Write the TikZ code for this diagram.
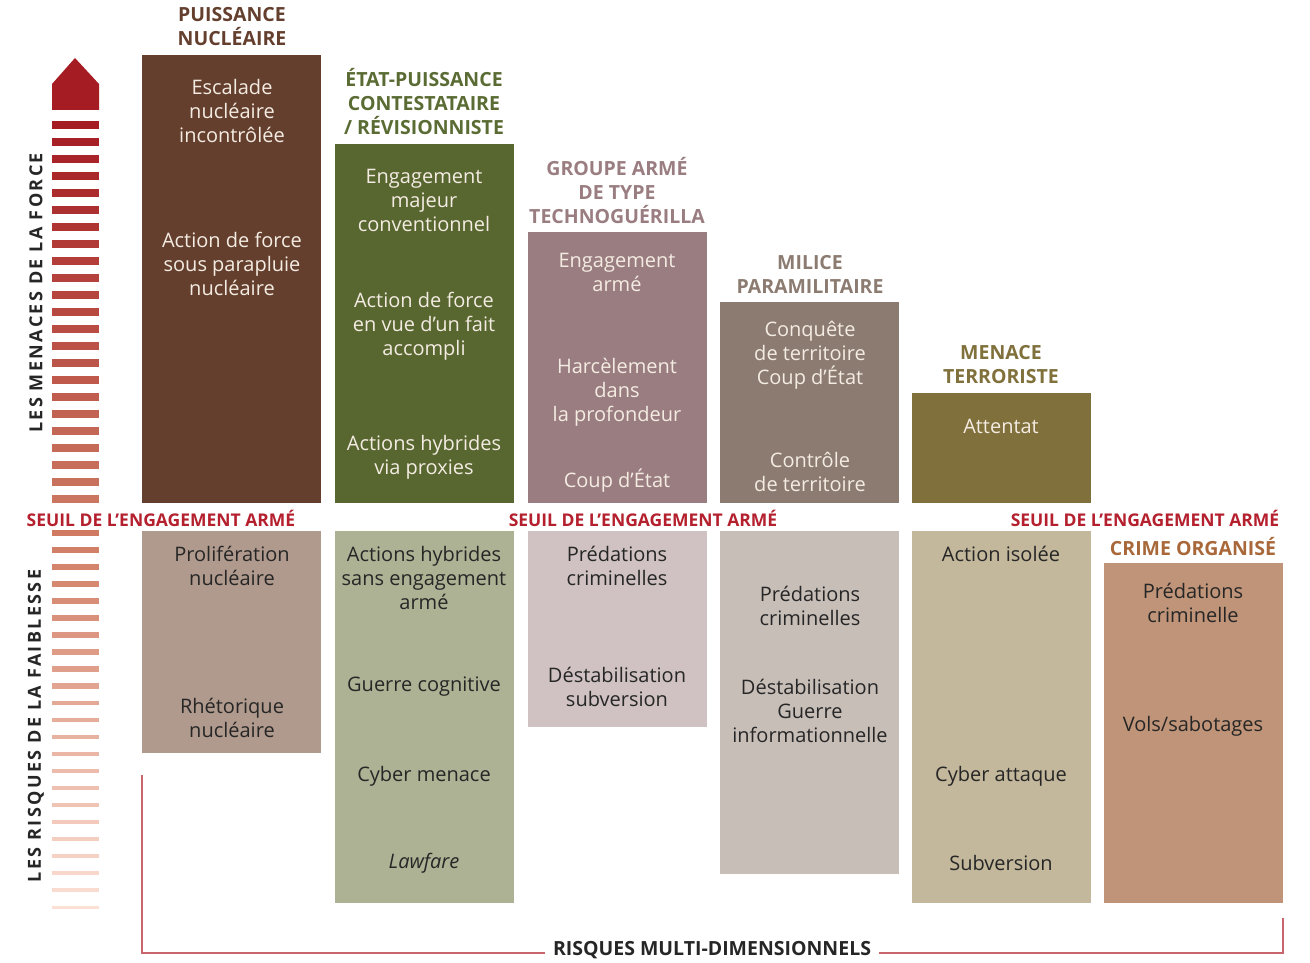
\documentclass[tikz,border=0pt]{standalone}
\usepackage{fontspec}
\setmainfont{Open Sans}
\newfontfamily\spaced[LetterSpace=13]{Open Sans}
\usetikzlibrary{calc}
\definecolor{nucbrown}{HTML}{643F2E}
\definecolor{nuclow}{HTML}{B09A8D}
\definecolor{etatgreen}{HTML}{586630}
\definecolor{etatlow}{HTML}{AEB294}
\definecolor{groupmauve}{HTML}{9A7D80}
\definecolor{grouplow}{HTML}{D0C2C2}
\definecolor{milice}{HTML}{8C7B70}
\definecolor{milicelow}{HTML}{C8BEB8}
\definecolor{terror}{HTML}{80703C}
\definecolor{terrorlow}{HTML}{C3B89C}
\definecolor{crime}{HTML}{C09478}
\definecolor{crimehead}{HTML}{A8683A}
\definecolor{etathead}{HTML}{5A6B33}
\definecolor{seuilred}{HTML}{B4202E}
\definecolor{arrowred}{HTML}{A51C22}
\definecolor{stripetop}{HTML}{A51C22}
\definecolor{stripemid}{HTML}{CA7660}
\definecolor{stripelow}{HTML}{D07A62}
\definecolor{stripeend}{HTML}{FCE0D4}
\definecolor{boxwhite}{HTML}{F4ECE2}
\definecolor{textdark}{HTML}{262626}
\definecolor{bracket}{HTML}{C8646C}

\begin{document}
\begin{tikzpicture}
    [x=1pt,y=-1pt,
     txt/.style={align=center,font=\fontsize{20}{24}\selectfont},
     light/.style={txt,text=boxwhite},
     dark/.style={txt,text=textdark},
     head/.style={align=center,font=\fontsize{19.5}{24}\selectfont\bfseries},
     seuil/.style={font=\fontsize{17.5}{18}\selectfont\bfseries,text=seuilred},
     side/.style={rotate=90,text=textdark,font=\fontsize{18}{20}\selectfont\spaced\bfseries}]

\useasboundingbox (0,0) rectangle (1310,963);

% left gauge
\fill[arrowred] (52,84) -- (75,58) -- (99,84) -- (99,110) -- (52,110) -- cycle;
\foreach \k in {0,...,22}{
  \pgfmathsetmacro\p{100-100*\k/22}
  \fill[stripetop!\p!stripemid] (52,{121+17*\k}) rectangle (99,{129+17*\k});
}
\foreach \k in {24,...,46}{
  \pgfmathsetmacro\p{100-100*(\k-24)/22}
  \pgfmathsetmacro\h{6.5-3.5*(\k-24)/22}
  \fill[stripelow!\p!stripeend] (52,{125+17*\k-\h/2}) rectangle (99,{125+17*\k+\h/2});
}
\node[side] (force) at (36,293) {LES MENACES DE LA FORCE};
\node[side] (faible) at (36,726) {LES RISQUES DE LA FAIBLESSE};

% columns
\fill[nucbrown] (142,55) rectangle (321,503);
\fill[nuclow] (142,531) rectangle (321,753);
\fill[etatgreen] (335,144) rectangle (514,503);
\fill[etatlow] (335,531) rectangle (514,903);
\fill[groupmauve] (528,232) rectangle (707,503);
\fill[grouplow] (528,531) rectangle (707,727);
\fill[milice] (720,302) rectangle (899,503);
\fill[milicelow] (720,531) rectangle (899,874);
\fill[terror] (912,393) rectangle (1091,503);
\fill[terrorlow] (912,531) rectangle (1091,903);
\fill[crime] (1104,563) rectangle (1283,903);

% headers
\node[head,text=nucbrown] (h1) at (232,27) {PUISSANCE\\NUCLÉAIRE};
\node[head,text=etathead] (h2) at (424,102) {ÉTAT-PUISSANCE\\CONTESTATAIRE\\/ RÉVISIONNISTE};
\node[head,text=groupmauve] (h3) at (617,191) {GROUPE ARMÉ\\DE TYPE\\TECHNOGUÉRILLA};
\node[head,text=milice] (h4) at (810,274) {MILICE\\PARAMILITAIRE};
\node[head,text=terror] (h5) at (1001,365) {MENACE\\TERRORISTE};
\node[head,text=crimehead] (h6) at (1193,547) {CRIME ORGANISÉ};

% threshold
\node[seuil] (s1) at (161,518) {SEUIL DE L’ENGAGEMENT ARMÉ};
\node[seuil] (s2) at (643,518) {SEUIL DE L’ENGAGEMENT ARMÉ};
\node[seuil] (s3) at (1145,518) {SEUIL DE L’ENGAGEMENT ARMÉ};

% upper texts
\node[light] (u1a) at (232,111) {Escalade\\nucléaire\\incontrôlée};
\node[light] (u1b) at (232,264) {Action de force\\sous parapluie\\nucléaire};
\node[light] (u2a) at (424,200) {Engagement\\majeur\\conventionnel};
\node[light] (u2b) at (424,326) {Action de force\\en vue d’un fait\\accompli};
\node[light] (u2c) at (424,457) {Actions hybrides\\via proxies};
\node[light] (u3a) at (617,272) {Engagement\\armé};
\node[light] (u3b) at (617,392) {Harcèlement\\dans\\la profondeur};
\node[light] (u3c) at (617,481) {Coup d’État};
\node[light] (u4a) at (810,355) {Conquête\\de territoire\\Coup d’État};
\node[light] (u4b) at (810,472) {Contrôle\\de territoire};
\node[light] (u5a) at (1001,426) {Attentat};

% lower texts
\node[dark] (l1a) at (232,566) {Prolifération\\nucléaire};
\node[dark] (l1b) at (232,718) {Rhétorique\\nucléaire};
\node[dark] (l2a) at (424,578) {Actions hybrides\\sans engagement\\armé};
\node[dark] (l2b) at (424,687) {Guerre cognitive};
\node[dark] (l2c) at (424,776) {Cyber menace};
\node[dark] (l2d) at (424,863) {\itshape Lawfare};
\node[dark] (l3a) at (617,566) {Prédations\\criminelles};
\node[dark] (l3b) at (617,687) {Déstabilisation\\subversion};
\node[dark] (l4a) at (810,606) {Prédations\\criminelles};
\node[dark] (l4b) at (810,711) {Déstabilisation\\Guerre\\informationnelle};
\node[dark] (l5a) at (1001,554) {Action isolée};
\node[dark] (l5b) at (1001,776) {Cyber attaque};
\node[dark] (l5c) at (1001,863) {Subversion};
\node[dark] (l6a) at (1193,603) {Prédations\\criminelle};
\node[dark] (l6b) at (1193,726) {Vols/sabotages};

% bracket
\node[head,text=textdark,inner sep=8pt] (multi) at (712,950) {RISQUES MULTI-DIMENSIONNELS};
\coordinate (bl) at (142,953);
\coordinate (br) at (1283,953);
\draw[bracket,line width=1.3pt] (142,775) -- (bl) -- (multi.west |- bl);
\draw[bracket,line width=1.3pt] (multi.east |- br) -- (br) -- (1283,918);

\end{tikzpicture}
\end{document}
